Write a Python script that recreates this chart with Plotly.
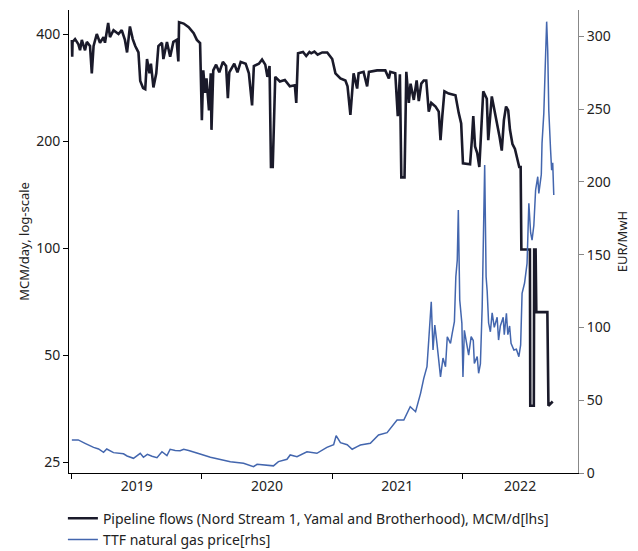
import plotly.graph_objects as go
import pandas as pd

# Pipeline flows (Nord Stream 1, Yamal and Brotherhood), MCM/d  [left axis, log]
flow_dates = [
    "2019-01-01", "2019-01-02", "2019-01-03", "2019-01-10", "2019-01-19", "2019-01-24", "2019-01-29",
    "2019-02-07", "2019-02-12", "2019-02-21", "2019-02-26", "2019-03-03", "2019-03-12", "2019-03-21",
    "2019-03-31", "2019-04-04", "2019-04-13", "2019-04-18", "2019-04-28", "2019-05-12", "2019-05-21",
    "2019-05-30", "2019-06-05", "2019-06-13", "2019-06-21", "2019-06-28", "2019-07-07", "2019-07-12",
    "2019-07-20", "2019-07-26", "2019-07-31", "2019-08-07", "2019-08-11", "2019-08-18", "2019-08-26",
    "2019-09-01", "2019-09-11", "2019-09-15", "2019-09-25", "2019-10-04", "2019-10-13", "2019-10-22",
    "2019-10-27", "2019-10-29", "2019-11-11", "2019-11-25", "2019-12-09", "2019-12-18", "2019-12-27",
    "2020-01-01", "2020-01-05", "2020-01-10", "2020-01-14", "2020-01-21", "2020-01-26", "2020-01-28",
    "2020-02-02", "2020-02-10", "2020-02-19", "2020-02-29", "2020-03-09", "2020-03-14", "2020-03-18",
    "2020-04-01", "2020-04-10", "2020-04-19", "2020-05-03", "2020-05-12", "2020-05-21", "2020-05-26",
    "2020-06-09", "2020-06-18", "2020-06-27", "2020-07-03", "2020-07-09", "2020-07-13", "2020-07-18",
    "2020-07-25", "2020-08-07", "2020-08-21", "2020-09-04", "2020-09-18", "2020-09-22", "2020-09-27",
    "2020-10-11", "2020-10-20", "2020-10-29", "2020-11-03", "2020-11-12", "2020-11-21", "2020-12-04",
    "2020-12-18", "2021-01-01", "2021-01-10", "2021-01-24", "2021-02-07", "2021-02-13", "2021-02-21",
    "2021-02-26", "2021-03-02", "2021-03-12", "2021-03-16", "2021-03-30", "2021-04-09", "2021-04-14",
    "2021-05-07", "2021-05-30", "2021-06-09", "2021-06-13", "2021-06-27", "2021-07-04", "2021-07-10",
    "2021-07-14", "2021-07-23", "2021-07-28", "2021-08-04", "2021-08-09", "2021-08-18", "2021-08-26",
    "2021-09-01", "2021-09-08", "2021-09-15", "2021-09-22", "2021-09-29", "2021-10-06", "2021-10-18",
    "2021-10-27", "2021-11-01", "2021-11-06", "2021-11-12", "2021-11-24", "2021-12-13", "2021-12-22",
    "2021-12-29", "2022-01-03", "2022-01-23", "2022-01-28", "2022-02-01", "2022-02-06", "2022-02-12",
    "2022-02-18", "2022-02-25", "2022-03-01", "2022-03-11", "2022-03-15", "2022-03-25", "2022-03-29",
    "2022-04-08", "2022-04-16", "2022-04-22", "2022-04-28", "2022-05-04", "2022-05-10", "2022-05-15",
    "2022-05-22", "2022-05-29", "2022-06-03", "2022-06-10", "2022-06-14", "2022-06-16", "2022-07-10",
    "2022-07-11", "2022-07-21", "2022-07-22", "2022-07-26", "2022-07-28", "2022-08-28", "2022-08-31",
    "2022-09-12",
]
flow_values = [
    385, 345, 380, 387, 375, 360, 385,
    360, 380, 370, 310, 370, 400, 378,
    392, 378, 430, 392, 410, 400, 410,
    385, 355, 420, 387, 370, 355, 295,
    282, 280, 340, 310, 330, 283, 310,
    370, 378, 340, 380, 345, 380, 385,
    335, 432, 428, 418, 402, 385, 377,
    229, 316, 273, 300, 244, 310, 215,
    316, 328, 312, 334, 325, 264, 312,
    330, 312, 334, 330, 310, 252, 325,
    330, 339, 328, 303, 325, 169, 169,
    303, 294, 297, 285, 287, 256, 353,
    356, 347, 356, 353, 357, 350, 355,
    355, 340, 310, 300, 296, 285, 237,
    285, 310, 281, 310, 313, 285, 313,
    316, 316, 300, 313, 310, 235, 308,
    158, 158, 313, 256, 290, 261, 296,
    259, 290, 296, 296, 242, 256, 250,
    242, 201, 235, 276, 272, 269, 240,
    224, 173, 172, 201, 235, 193, 185,
    169, 229, 276, 263, 201, 267, 255,
    224, 205, 188, 229, 250, 244, 215,
    196, 190, 181, 169, 169, 99, 99,
    36, 36, 99, 99, 66, 66, 36,
    37,
]

# TTF natural gas price, EUR/MWh  [right axis]
ttf_dates = [
    "2019-01-01", "2019-01-19", "2019-02-07", "2019-02-21", "2019-03-03", "2019-03-17", "2019-03-31",
    "2019-04-09", "2019-04-28", "2019-05-26", "2019-06-05", "2019-06-23", "2019-07-12", "2019-07-21",
    "2019-08-01", "2019-08-14", "2019-08-28", "2019-09-11", "2019-09-25", "2019-10-04", "2019-10-18",
    "2019-11-01", "2019-11-11", "2019-11-25", "2019-12-09", "2019-12-27", "2020-01-25", "2020-02-22",
    "2020-03-21", "2020-04-27", "2020-05-25", "2020-06-04", "2020-07-02", "2020-07-20", "2020-08-03",
    "2020-08-27", "2020-09-05", "2020-09-24", "2020-10-22", "2020-11-19", "2020-12-17", "2021-01-05",
    "2021-01-12", "2021-01-24", "2021-02-12", "2021-02-26", "2021-03-12", "2021-03-21", "2021-04-18",
    "2021-05-11", "2021-06-04", "2021-07-02", "2021-07-21", "2021-08-08", "2021-08-23", "2021-09-06",
    "2021-09-15", "2021-09-24", "2021-09-29", "2021-10-06", "2021-10-11", "2021-10-16", "2021-10-22",
    "2021-11-01", "2021-11-08", "2021-11-15", "2021-11-20", "2021-11-29", "2021-12-04", "2021-12-10",
    "2021-12-14", "2021-12-18", "2021-12-21", "2021-12-25", "2021-12-31", "2022-01-03", "2022-01-07",
    "2022-01-15", "2022-01-19", "2022-01-26", "2022-02-01", "2022-02-04", "2022-02-12", "2022-02-16",
    "2022-02-21", "2022-02-26", "2022-03-02", "2022-03-05", "2022-03-09", "2022-03-12", "2022-03-16",
    "2022-03-21", "2022-03-26", "2022-04-01", "2022-04-09", "2022-04-13", "2022-04-18", "2022-04-26",
    "2022-04-29", "2022-05-05", "2022-05-09", "2022-05-14", "2022-05-18", "2022-05-26", "2022-06-02",
    "2022-06-09", "2022-06-14", "2022-06-18", "2022-06-25", "2022-07-02", "2022-07-07", "2022-07-12",
    "2022-07-16", "2022-07-21", "2022-07-26", "2022-08-01", "2022-08-04", "2022-08-11", "2022-08-13",
    "2022-08-18", "2022-08-22", "2022-08-26", "2022-08-29", "2022-09-01", "2022-09-06", "2022-09-09",
    "2022-09-12", "2022-09-15",
]
ttf_values = [
    22.7, 22.7, 20.4, 18.5, 17.6, 16.5, 14.2,
    16.5, 14.0, 13.2, 11.7, 10.1, 13.5, 10.8,
    12.8, 11.5, 10.5, 14.6, 12.0, 16.3, 15.5,
    15.3, 16.3, 15.5, 14.6, 13.0, 10.8, 9.4,
    7.8, 6.7, 4.3, 6.0, 5.5, 4.9, 7.8,
    9.4, 12.4, 11.2, 14.6, 13.5, 17.6, 19.5,
    25.6, 20.8, 19.4, 16.3, 18.1, 19.2, 20.4,
    26.1, 27.7, 36.4, 36.4, 45.5, 42.1, 54.7,
    65.0, 73.0, 91.3, 117.6, 84.5, 101.6, 89.0,
    66.0, 79.0, 73.0, 93.6, 89.0, 96.0, 104.0,
    134.8, 146.0, 180.6, 118.8, 102.8, 66.0, 98.0,
    84.5, 81.0, 93.6, 91.0, 75.3, 80.0, 68.5,
    75.0, 114.0, 173.8, 211.5, 134.8, 125.0, 103.0,
    97.0, 110.0, 100.0, 107.0, 91.3, 101.0, 107.0,
    95.0, 109.7, 95.0, 101.0, 89.0, 84.5, 85.0,
    79.9, 88.0, 123.4, 130.5, 144.0, 185.2, 165.0,
    160.0, 170.0, 194.4, 203.5, 192.0, 205.0, 226.4,
    247.0, 279.0, 310.0, 290.0, 249.0, 222.0, 208.0,
    213.0, 191.0,
]

year_labels = ["2019", "2020", "2021", "2022"]
left_ticks = [25, 50, 100, 200, 400]
right_ticks = [0, 50, 100, 150, 200, 250, 300]

x_range = ["2018-12-24", "2022-11-22"]

# year boundary ticks and labels centred on the visible part of each year
year_starts = [pd.Timestamp(f"{y}-01-01") for y in year_labels]
rng_end = pd.Timestamp(x_range[1])
label_pos = []
for i, ys in enumerate(year_starts):
    ye = year_starts[i + 1] if i + 1 < len(year_starts) else min(pd.Timestamp(f"{int(year_labels[i]) + 1}-01-01"), rng_end)
    label_pos.append((ys + (ye - ys) / 2).strftime("%Y-%m-%d %H:%M"))
boundary_ticks = [ys.strftime("%Y-%m-%d") for ys in year_starts]

FONT = "Noto Sans, sans-serif"
BLACK = "#1a1a2a"
BLUE = "#4366ae"

fig = go.Figure()
fig.add_trace(go.Scatter(
    x=flow_dates, y=flow_values, mode="lines",
    name="Pipeline flows (Nord Stream 1, Yamal and Brotherhood), MCM/d[lhs]",
    line=dict(color=BLACK, width=2.6), yaxis="y",
))
fig.add_trace(go.Scatter(
    x=ttf_dates, y=ttf_values, mode="lines",
    name="TTF natural gas price[rhs]",
    line=dict(color=BLUE, width=1.5), yaxis="y2",
))

fig.update_layout(
    width=638, height=551,
    margin=dict(l=69, r=60, t=10, b=78, autoexpand=False),
    paper_bgcolor="white", plot_bgcolor="white",
    font=dict(family=FONT, size=14, color="#222"),
    showlegend=True,
    legend=dict(
        orientation="v", x=-0.012, xanchor="left", y=-0.064, yanchor="top",
        font=dict(size=14, color="#222"), bgcolor="rgba(0,0,0,0)",
        itemwidth=30, tracegroupgap=0,
    ),
    xaxis=dict(
        type="date", range=x_range,
        tickmode="array", tickvals=label_pos, ticktext=year_labels, ticks="",
        minor=dict(tickmode="array", tickvals=boundary_ticks, ticks="outside", ticklen=5,
                   tickcolor="#000", showgrid=False),
        showline=True, linecolor="#000", linewidth=1, showgrid=False, zeroline=False,
        tickfont=dict(size=14, color="#222"), automargin=False,
    ),
    yaxis=dict(
        type="log", range=[1.3670, 2.6696],
        tickvals=left_ticks, ticktext=[str(v) for v in left_ticks],
        ticks="outside", ticklen=5, tickcolor="#000",
        showline=True, linecolor="#000", linewidth=1, showgrid=False, zeroline=False,
        title=dict(text="MCM/day, log-scale", font=dict(size=13, color="#222"), standoff=3),
        tickfont=dict(size=14, color="#222"), automargin=False,
    ),
    yaxis2=dict(
        overlaying="y", side="right", range=[0, 318],
        tickvals=right_ticks,
        ticks="outside", ticklen=5, tickcolor="#888",
        showline=True, linecolor="#888", linewidth=1, showgrid=False, zeroline=False,
        title=dict(text="EUR/MwH", font=dict(size=13, color="#222"), standoff=8),
        tickfont=dict(size=14, color="#222"), automargin=False,
    ),
)

fig.write_html(
    "out.html",
    config={"displayModeBar": False},
    post_script="document.body.style.margin='0';document.body.style.padding='0';",
)
